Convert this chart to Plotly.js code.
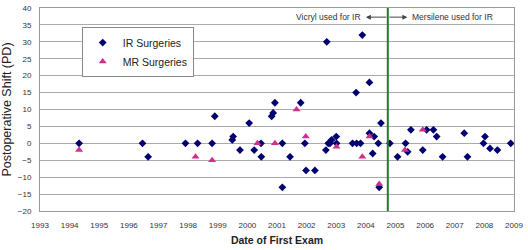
<!DOCTYPE html>
<html>
<head>
<meta charset="utf-8">
<script src="https://cdn.plot.ly/plotly-3.0.1.min.js"></script>
<style>html,body{margin:0;padding:0;background:#fff;}#chart{width:528px;height:250px;}</style>
</head>
<body>
<div id="chart"></div>
<script>
// Date of first exam (decimal years) and postoperative shift (PD)
const irYears = [1994.32,1996.46,1996.65,1997.91,1998.32,1998.81,1998.90,1999.49,1999.52,1999.75,
  2000.06,2000.23,2000.46,2000.47,2000.82,2000.87,2000.93,2001.18,2001.18,2001.44,
  2001.80,2001.94,2001.98,2002.28,2002.65,2002.68,2002.73,2002.79,2002.84,2003.00,
  2003.01,2003.55,2003.69,2003.67,2003.82,2003.88,2004.12,2004.12,2004.23,2004.28,
  2004.42,2004.45,2004.51,2004.81,2005.07,2005.34,2005.41,2005.52,2005.92,2006.05,
  2006.28,2006.39,2006.59,2007.32,2007.43,2007.97,2008.02,2008.19,2008.44,2008.89];
const irShift = [0,0,-4,0,0,0,8,1,2,-2,
  6,-2,0,-4,8,9,12,0,-13,-4,
  12,0,-8,-8,-2,30,0,0,1,2,
  0,0,0,15,0,32,3,18,-3,2,
  0,-13,6,0,-4,0,-2.5,4,-2,4,
  4,2,-4,3,-4,0,2,-1.5,-2,0];
const mrYears = [1994.32,1998.25,1998.81,2000.34,2000.93,2001.66,2001.97,2003.01,2003.88,2004.12,2004.45,2005.32,2005.92];
const mrShift = [-2,-4,-5,0,0,10,2,-1,-4,2,-12,-2,4];
const yearTicks = [1993,1994,1995,1996,1997,1998,1999,2000,2001,2002,2003,2004,2005,2006,2007,2008,2009];
const switchYear = 2004.74;
const leftArrowYear = 2004.0;
const rightArrowYear = 2005.4;
const labelY = 37.3;
const vicrylLabel = "Vicryl used for IR";
const mersileneLabel = "Mersilene used for IR";

const font = "Liberation Sans, Arial, sans-serif";
const traces = [
  {x: irYears, y: irShift, mode: 'markers', type: 'scatter', name: 'IR Surgeries',
   marker: {symbol: 'diamond', size: 6, color: '#000070'}},
  {x: mrYears, y: mrShift, mode: 'markers', type: 'scatter', name: 'MR Surgeries',
   marker: {symbol: 'triangle-up', size: 7, color: '#d0308a'}}
];
const layout = {
  width: 528, height: 250,
  margin: {l: 40, r: 14, t: 8, b: 39},
  paper_bgcolor: '#fff', plot_bgcolor: '#fff',
  font: {family: font, color: '#333'},
  showlegend: true,
  legend: {x: 0.088, y: 0.906, xanchor: 'left', yanchor: 'top',
    bgcolor: '#fff', bordercolor: '#888', borderwidth: 1,
    font: {size: 10.5, color: '#222'}, itemwidth: 30, tracegroupgap: 0},
  xaxis: {range: [1993, 2009], tickvals: yearTicks, ticktext: yearTicks.map(String),
    showgrid: false, zeroline: false, showline: true, mirror: true, linecolor: '#999', linewidth: 1,
    ticks: '', ticklabelstandoff: 6, tickfont: {size: 8, color: '#333'},
    title: {text: '<b>Date of First Exam</b>', font: {size: 10.5, color: '#222'}, standoff: 8}},
  yaxis: {range: [-20, 40], dtick: 5, tick0: 0,
    showgrid: true, gridcolor: '#aaa', gridwidth: 1, zeroline: false,
    showline: true, mirror: true, linecolor: '#999', linewidth: 1,
    ticks: '', ticklabelstandoff: 6, tickfont: {size: 8, color: '#333'},
    title: {text: 'Postoperative Shift (PD)', font: {size: 12.5, color: '#222'}, standoff: 5}},
  shapes: [
    {type: 'line', xref: 'x', yref: 'paper', x0: switchYear, x1: switchYear, y0: 0, y1: 1,
     line: {color: '#217a2b', width: 2}}
  ],
  annotations: [
    {x: leftArrowYear, y: labelY, ax: switchYear, ay: labelY, xref: 'x', yref: 'y', axref: 'x', ayref: 'y',
     text: '', showarrow: true, arrowhead: 2, arrowsize: 1, arrowwidth: 1, arrowcolor: '#444'},
    {x: rightArrowYear, y: labelY, ax: switchYear, ay: labelY, xref: 'x', yref: 'y', axref: 'x', ayref: 'y',
     text: '', showarrow: true, arrowhead: 2, arrowsize: 1, arrowwidth: 1, arrowcolor: '#444'},
    {x: leftArrowYear - 0.1, y: labelY, xref: 'x', yref: 'y', text: vicrylLabel, showarrow: false,
     xanchor: 'right', font: {size: 8.5, color: '#333'}},
    {x: rightArrowYear + 0.1, y: labelY, xref: 'x', yref: 'y', text: mersileneLabel, showarrow: false,
     xanchor: 'left', font: {size: 8.5, color: '#333'}}
  ]
};
Plotly.newPlot('chart', traces, layout, {displayModeBar: false, staticPlot: true});
</script>
</body>
</html>
